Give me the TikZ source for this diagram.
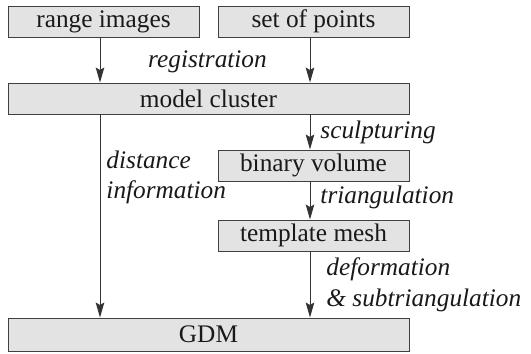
\documentclass[tikz,border=0pt]{standalone}
\usepackage{fontspec}
\setmainfont{Liberation Serif}
\usetikzlibrary{arrows.meta, % for arrow tips
                calc,
                positioning}

\begin{document}
\begin{tikzpicture}[
                    box/.style={draw=black!75, fill=black!11, line width=0.55pt, minimum height=0.62cm, inner sep=0, text=black!90, font=\fontsize{14.4}{17.4}\selectfont},
                    smallbox/.style={box, minimum width=3.82cm},
                    widebox/.style={box, minimum width=8.02cm},
                    arrow/.style={-{Stealth[length=0.3cm, width=0.17cm, inset=0.05cm]}, line width=0.55pt, black!80},
                    stepLabel/.style={right, inner sep=0, text=black!90, font=\fontsize{14.4}{17.4}\selectfont\itshape, align=left}
                    ]
    \useasboundingbox (0,0) rectangle (10.62,7.06);
    %boxes
    \node[smallbox] at (2.07,6.63) (rng){range images};
    \node[smallbox] at (6.27,6.63) (pts){set of points};
    \node[widebox]  at (4.17,5.09) (mc){model cluster};
    \node[smallbox] at (6.27,3.75) (bv){binary volume};
    \node[smallbox] at (6.27,2.35) (tm){template mesh};
    \node[widebox, minimum height=0.66cm] at (4.17,0.37) (gdm){GDM};

    %arrow columns
    \coordinate (lx) at (2.0,0);
    \coordinate (rx) at (6.2,0);

    \draw[arrow] (rng.south -| lx) -- (mc.north -| lx);
    \draw[arrow] (pts.south -| rx) -- (mc.north -| rx);
    \node[stepLabel, anchor=center] at (4.15,5.82) (reg){registration};

    \draw[arrow] (mc.south -| rx) -- (bv.north -| rx) node[stepLabel, midway, xshift=0.2cm] {sculpturing};
    \draw[arrow] (bv.south -| rx) -- (tm.north -| rx) node[stepLabel, midway, xshift=0.2cm, yshift=0.06cm] {triangulation};
    \draw[arrow] (tm.south -| rx) -- (gdm.north -| rx) node[stepLabel, midway, xshift=0.32cm] {deformation\\\& subtriangulation};
    \draw[arrow] (mc.south -| lx) -- (gdm.north -| lx) node[stepLabel, pos=0.31, xshift=0.12cm] {distance\\information};

\end{tikzpicture}
\end{document}
